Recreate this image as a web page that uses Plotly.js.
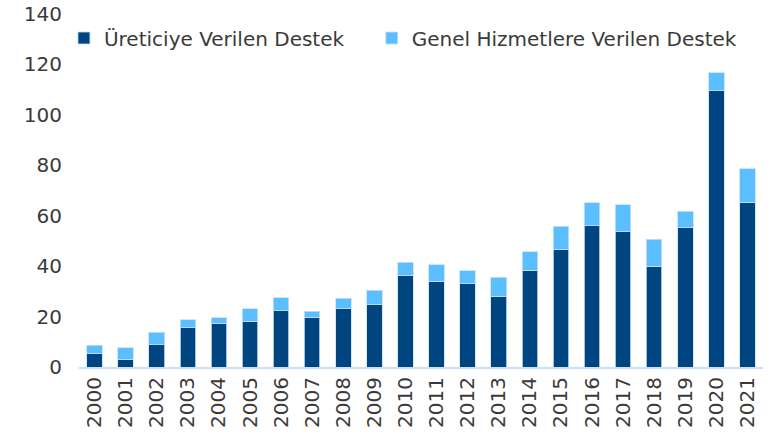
<!DOCTYPE html>
<html><head><meta charset="utf-8">
<script src="https://cdn.plot.ly/plotly-3.0.1.min.js"></script>
<style>html,body{margin:0;padding:0;background:#fff}</style>
</head><body>
<div id="chart" style="width:772px;height:447px"></div>
<script>
const years = ["2000","2001","2002","2003","2004","2005","2006","2007","2008","2009","2010","2011","2012","2013","2014","2015","2016","2017","2018","2019","2020","2021"];
const ureticiye = [5.3,3.0,8.9,15.6,17.3,18.1,22.4,19.8,23.1,24.6,36.4,34.0,33.1,28.0,38.3,46.8,56.1,53.6,40.0,55.2,109.5,65.4];
const genelHizmet = [3.3,4.7,4.9,3.2,2.3,5.1,5.0,2.4,4.1,5.8,5.1,6.6,5.0,7.6,7.5,9.0,9.1,10.7,10.7,6.6,7.3,13.3];
const yTicks = [0,20,40,60,80,100,120,140];
const seriesNames = ["Üreticiye Verilen Destek","Genel Hizmetlere Verilen Destek"];

const font = {family:"'DejaVu Sans', sans-serif", size:20, color:"#3a3a3a"};
const data = [
  {type:"bar", x:years, y:ureticiye, name:seriesNames[0], legend:"legend",
   marker:{color:"#004580", line:{color:"rgba(200,225,245,0.8)", width:1}}},
  {type:"bar", x:years, y:genelHizmet, name:seriesNames[1], legend:"legend2",
   marker:{color:"#5BBEFF", line:{color:"rgba(200,225,245,0.8)", width:1}}}
];
const legBase = {orientation:"h", y:0.932, xanchor:"left", yanchor:"middle",
  font:font, bgcolor:"rgba(0,0,0,0)", itemwidth:30};
const layout = {
  width:772, height:447,
  margin:{l:79, r:9, t:14, b:80},
  barmode:"stack", bargap:0.5,
  paper_bgcolor:"#fff", plot_bgcolor:"#fff",
  font:font,
  showlegend:true,
  legend:Object.assign({x:-0.022}, legBase),
  legend2:Object.assign({x:0.428}, legBase),
  xaxis:{type:"category", tickangle:-90, showgrid:false, zeroline:false,
         showline:true, linecolor:"#c8e0f6", linewidth:2, ticks:"",
         tickfont:font, range:[-0.5,21.5]},
  yaxis:{range:[0,140], tickvals:yTicks, showgrid:false, zeroline:false,
         showline:false, ticks:"", tickfont:font, ticklabelstandoff:16}
};
Plotly.newPlot("chart", data, layout, {displayModeBar:false, staticPlot:true});
</script>
</body></html>
